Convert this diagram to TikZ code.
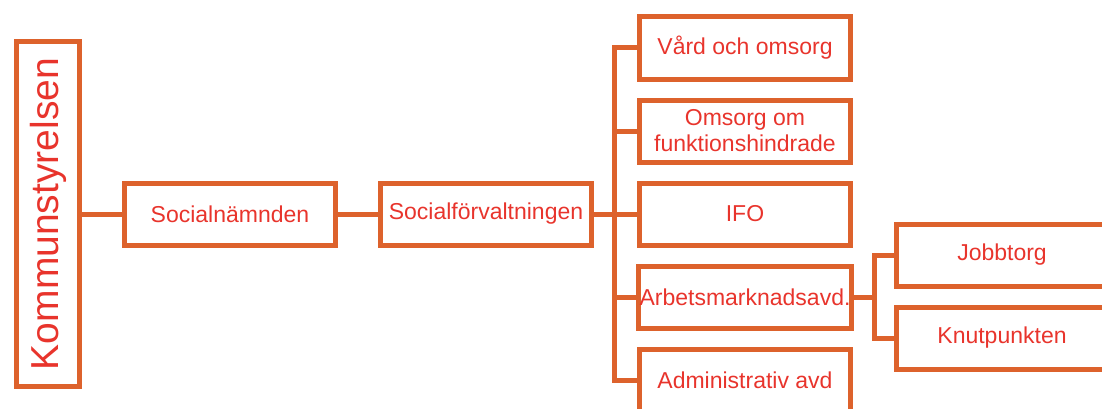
\documentclass[tikz,border=0pt]{standalone}
\usepackage{fontspec}
\setmainfont{Liberation Sans}
\usetikzlibrary{positioning}
\definecolor{orgline}{HTML}{DD622C}
\definecolor{orgtext}{HTML}{E8342C}
\tikzstyle{box} = [rectangle, draw=orgline, line width=5pt, text=orgtext, text centered, inner sep=1pt, minimum width=211pt, minimum height=62pt, font=\fontsize{23}{26}\selectfont]
\tikzstyle{line} = [draw=orgline, line width=5pt]

\begin{document}
\begin{tikzpicture}[x=1pt, y=1pt, align=center, node distance=16pt]
    \useasboundingbox (0,0) rectangle (1102,408);

    \node [box, rotate=90, minimum width=345pt, minimum height=63pt, font=\fontsize{39}{41}\selectfont] (kommun) at (48,194) {Kommunstyrelsen};
    \node [box] (socnamnd) at (230,194) {Socialnämnden};
    \node [box, right=40pt of socnamnd] (socforv) {Socialförvaltningen};

    \node [box] (vard) at (745,360) {Vård och omsorg};
    \node [box, below=of vard] (omsorg) {Omsorg om\\funktionshindrade};
    \node [box, below=of omsorg] (ifo) {IFO};
    \node [box, below=of ifo] (arbets) {Arbetsmarknadsavd.};
    \node [box, below=of arbets] (admin) {Administrativ avd};

    \node [box] (jobb) at (1002,153) {Jobbtorg};
    \node [box, below=of jobb] (knut) {Knutpunkten};

    \coordinate [right=20pt of socforv] (bus);
    \coordinate [right=21pt of arbets] (subbus);

    \path [line] (kommun) -- (socnamnd);
    \path [line] (socnamnd) -- (socforv);
    \path [line] (socforv) -- (bus);
    \path [line] (vard.west) -| (bus |- admin) -- (admin);
    \path [line] (bus |- omsorg) -- (omsorg);
    \path [line] (bus |- ifo) -- (ifo);
    \path [line] (bus |- arbets) -- (arbets);

    \path [line] (arbets) -- (subbus);
    \path [line] (jobb.west) -| (subbus |- knut) -- (knut);

\end{tikzpicture}
\end{document}
